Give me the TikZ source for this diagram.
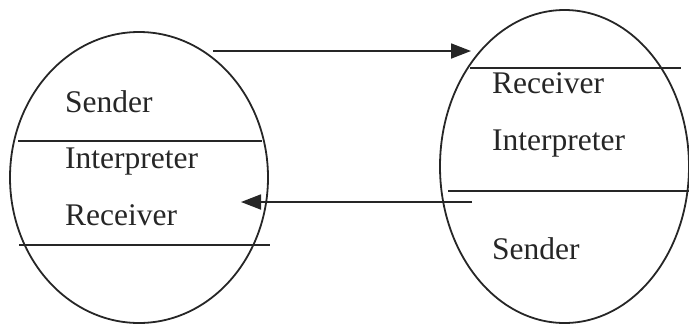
\documentclass[tikz,border=0pt]{standalone}
\usepackage{fontspec}
\setmainfont{Liberation Serif}
\usetikzlibrary{shapes.geometric,arrows.meta}
\definecolor{ink}{rgb}{0.15,0.15,0.15}
\tikzset{
  bubble/.style={ellipse, draw=ink, line width=1.8pt, inner sep=0pt},
  sepline/.style={draw=ink, line width=1.8pt},
  flow/.style={draw=ink, line width=1.8pt, -{Triangle[length=20pt,width=15pt]}},
  lbl/.style={anchor=base west, inner sep=0pt, text=ink, font=\fontsize{31.5}{36}\selectfont},
}
\begin{document}
\begin{tikzpicture}[x=1pt,y=-1pt]
\useasboundingbox (0,0) rectangle (689,325);
% ellipses
\node[bubble, minimum width=258pt, minimum height=291pt] (L) at (139,177.5) {};
\node[bubble, minimum width=249pt, minimum height=313pt] (R) at (564.5,166.5) {};
% separator lines, left
\coordinate (l1a) at (18,141); \coordinate (l1b) at (262,141);
\coordinate (l2a) at (19,245); \coordinate (l2b) at (270,245);
\draw[sepline] (l1a) -- (l1b);
\draw[sepline] (l2a) -- (l2b);
% separator lines, right
\coordinate (r1a) at (470,68); \coordinate (r1b) at (681,68);
\coordinate (r2a) at (448,191); \coordinate (r2b) at (689,191);
\draw[sepline] (r1a) -- (r1b);
\draw[sepline] (r2a) -- (r2b);
% labels
\node[lbl] (ls) at (65,112) {Sender};
\node[lbl] (li) at (65,168) {Interpreter};
\node[lbl] (lr) at (65,225) {Receiver};
\node[lbl] (rr) at (492,93) {Receiver};
\node[lbl] (ri) at (492,150) {Interpreter};
\node[lbl] (rs) at (492,259) {Sender};
% arrows
\coordinate (a1s) at (213,51); \coordinate (a1e) at (471,51);
\coordinate (a2s) at (472,202); \coordinate (a2e) at (241,202);
\draw[flow] (a1s) -- (a1e);
\draw[flow] (a2s) -- (a2e);
\end{tikzpicture}
\end{document}
